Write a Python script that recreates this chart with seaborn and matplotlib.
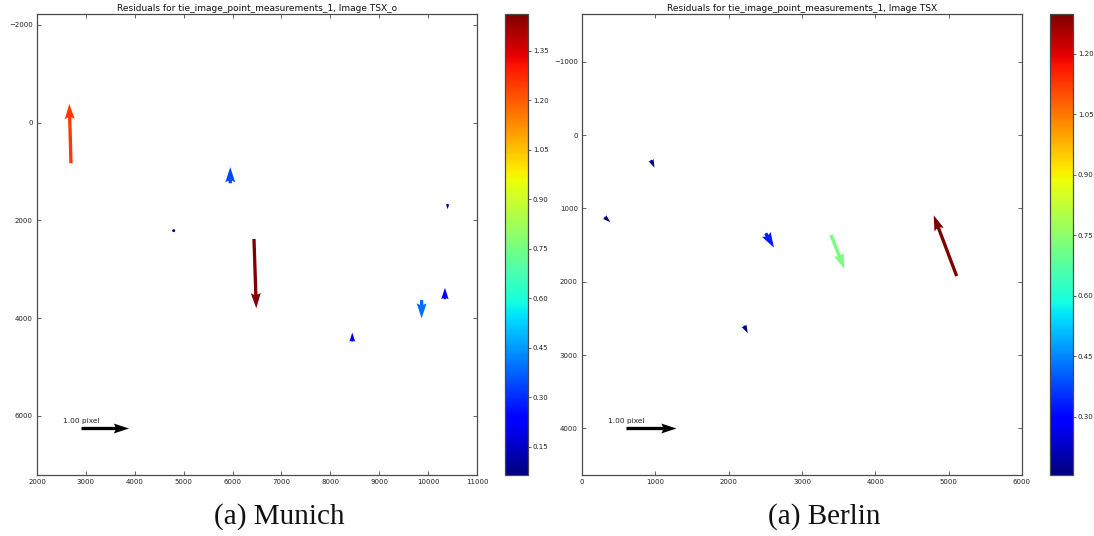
import numpy as np
import matplotlib
matplotlib.use("Agg")
import matplotlib.pyplot as plt
import seaborn as sns

sns.set_style("white")
plt.rcParams["font.family"] = ["DejaVu Sans"]

# ---- Munich: tie point positions (image pixels) and residual vectors (pixels)
munich_x = [2695, 5953, 4796, 10399, 6438, 9867, 10344, 8449]
munich_y = [833, 1242, 2212, 1666, 2381, 3629, 3614, 4481]
munich_u = [-0.035, 0.0, 0.065, 0.0, 0.049, 0.0, 0.0, 0.0]
munich_v = [1.25, 0.34, 0.0, -0.11, -1.461, -0.39, 0.24, 0.19]

# ---- Berlin
berlin_x = [941, 307, 2505, 2209, 3395, 5109]
berlin_y = [341, 1118, 1340, 2600, 1364, 1923]
berlin_u = [0.07, 0.116, 0.164, 0.075, 0.269, -0.459]
berlin_v = [-0.155, -0.104, -0.286, -0.15, -0.674, 1.214]

panels = [
    dict(x=munich_x, y=munich_y, u=munich_u, v=munich_v,
         title="Residuals for tie_image_point_measurements_1, Image TSX_o",
         caption="(a) Munich",
         xlim=(2000, 11000), ylim=(7210, -2220),
         xticks=np.arange(2000, 11001, 1000), yticks=np.arange(-2000, 6001, 2000),
         key_xy=(2900, 6250), px_per_unit=47.5,
         cticks=np.arange(0.15, 1.36, 0.15),
         ax_left=37, cb_left=505),
    dict(x=berlin_x, y=berlin_y, u=berlin_u, v=berlin_v,
         title="Residuals for tie_image_point_measurements_1, Image TSX",
         caption="(a) Berlin",
         xlim=(0, 6000), ylim=(4636, -1650),
         xticks=np.arange(0, 6001, 1000), yticks=np.arange(-1000, 4001, 1000),
         key_xy=(600, 4000), px_per_unit=50.0,
         cticks=np.arange(0.30, 1.21, 0.15),
         ax_left=582, cb_left=1050),
]

W, H = 1094, 536
fig = plt.figure(figsize=(W / 100, H / 100), dpi=100, facecolor="white")

ax_w, ax_h, top, bottom = 440, 461, 14, 475
edge = "#4a4a4a"
arrow_style = dict(angles="uv", scale_units="width", units="width",
                   width=0.0075, headwidth=3, headlength=4.6, headaxislength=4.1,
                   zorder=3)

for p in panels:
    ax = fig.add_axes([p["ax_left"] / W, (H - bottom) / H, ax_w / W, ax_h / H])
    cax = fig.add_axes([p["cb_left"] / W, (H - bottom) / H, 23 / W, ax_h / H])

    u = np.asarray(p["u"])
    v = np.asarray(p["v"])
    mag = np.hypot(u, v)
    scale = ax_w / p["px_per_unit"]

    q = ax.quiver(p["x"], p["y"], u, v, mag, cmap="jet", scale=scale, **arrow_style)
    ax.quiver([p["key_xy"][0]], [p["key_xy"][1]], [1.0], [0.0], color="black",
              scale=scale, **arrow_style)
    ax.annotate("1.00 pixel", xy=p["key_xy"], xytext=(0, 3.0),
                textcoords="offset points", ha="center", va="bottom",
                fontsize=5.3, color="#222222")

    ax.set_xlim(*p["xlim"])
    ax.set_ylim(*p["ylim"])
    ax.set_xticks(p["xticks"])
    ax.set_yticks(p["yticks"])
    ax.tick_params(direction="in", length=3, width=0.6, colors=edge,
                   labelcolor="#222222", labelsize=5.0, pad=3,
                   top=True, right=True, bottom=True, left=True)
    for s in ax.spines.values():
        s.set_color(edge)
        s.set_linewidth(0.9)
    ax.set_title(p["title"], fontsize=6.5, pad=2.5, color="#111111")

    cb = fig.colorbar(q, cax=cax)
    cb.set_ticks(p["cticks"])
    cb.ax.set_yticklabels(["%.2f" % t for t in p["cticks"]])
    cb.ax.tick_params(direction="out", length=2, width=0.6, colors=edge,
                      labelcolor="#222222", labelsize=5.0, pad=1.5)
    cb.outline.set_edgecolor(edge)
    cb.outline.set_linewidth(0.9)

    cx = (p["ax_left"] + p["cb_left"] + 23) / 2 / W
    fig.text(cx - 3 / W, 1 - 517 / H, p["caption"], ha="center", va="center",
             fontsize=21, family=["Liberation Serif", "DejaVu Serif"], color="#111111")

fig.savefig("out.png", dpi=100, facecolor="white")
